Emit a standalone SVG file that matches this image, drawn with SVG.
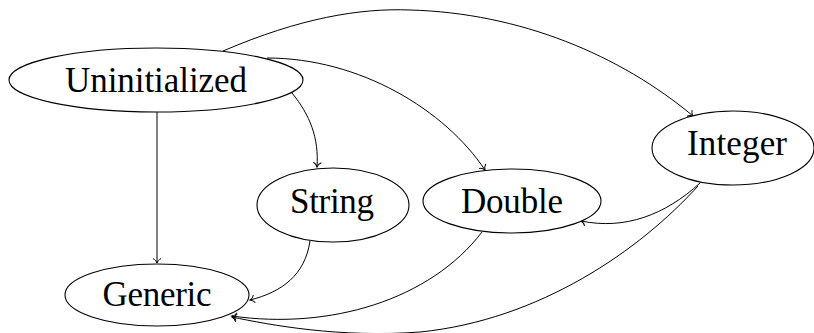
<svg xmlns="http://www.w3.org/2000/svg" width="814" height="333" viewBox="0 0 814 333">
<style>
.node ellipse{fill:#fff;stroke:#000;stroke-width:1.1}
.node text{font-family:"Liberation Serif","Times New Roman",serif;font-size:35px;fill:#000;text-anchor:middle}
.edges path{fill:none;stroke:#000;stroke-width:1;marker-end:url(#to)}
</style>
<defs>
<marker id="to" markerUnits="userSpaceOnUse" viewBox="-6 -5 8 10" markerWidth="8" markerHeight="10" refX="0" refY="0" orient="auto">
<path d="M-4.5,-4 C-3.5,-1.8 -1.2,-0.4 0,0 C-1.2,0.4 -3.5,1.8 -4.5,4" fill="none" stroke="#000" stroke-width="1"/>
</marker>
</defs>
<g class="edges">
<path d="M157,112 L157,263"/>
<path d="M292,93 C310,115 319,138 317,167"/>
<path d="M267,58 C360,58 445,110 485,170"/>
<path d="M223,51 C300,18 360,8 410,10 C520,13 620,55 693,116"/>
<path d="M310,241 C305,275 282,292 250,300"/>
<path d="M482,232 C430,300 330,330 232,316"/>
<path d="M700,183 C665,215 625,230 581,221"/>
<path d="M698,186 C640,250 540,320 420,332 C340,338 270,325 232,317"/>
</g>
<g id="uninitialized" class="node"><ellipse cx="156" cy="80" rx="147" ry="32"/><text x="156" y="92" textLength="182" lengthAdjust="spacing">Uninitialized</text></g>
<g id="generic" class="node"><ellipse cx="157" cy="295" rx="92" ry="31"/><text x="157" y="306" textLength="109" lengthAdjust="spacing">Generic</text></g>
<g id="string" class="node"><ellipse cx="333" cy="205" rx="76" ry="37"/><text x="332" y="213" textLength="84" lengthAdjust="spacing">String</text></g>
<g id="double" class="node"><ellipse cx="512" cy="201" rx="89" ry="32"/><text x="512" y="213" textLength="102" lengthAdjust="spacing">Double</text></g>
<g id="integer" class="node"><ellipse cx="733" cy="148" rx="81" ry="37"/><text x="737" y="155" textLength="100" lengthAdjust="spacing">Integer</text></g>
</svg>
